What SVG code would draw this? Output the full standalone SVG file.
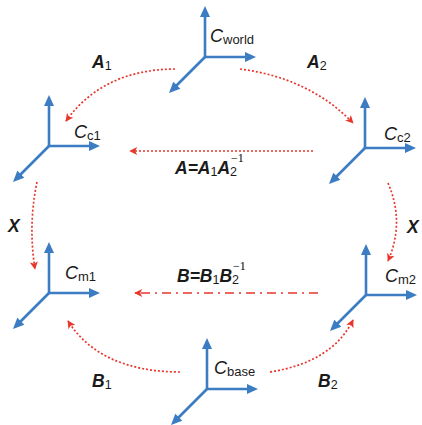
<svg xmlns="http://www.w3.org/2000/svg" xmlns:xlink="http://www.w3.org/1999/xlink" width="422" height="425" viewBox="0 0 422 425">
<style>
.ax{stroke:#3b7cc2;stroke-width:2.6;fill:none}
.ah{fill:#3b7cc2}
.rd{stroke:#e8362c;stroke-width:1.7;fill:none;stroke-dasharray:2 2}
.rdd{stroke:#e8362c;stroke-width:1.7;fill:none;stroke-dasharray:9 5 2 5}
.cl{font-family:"Liberation Sans",Arial,sans-serif;font-style:italic;font-size:18px;fill:#1a1a1a}
.sub{font-style:normal;font-size:13px}
.bl{font-family:"Liberation Sans",Arial,sans-serif;font-style:italic;font-weight:bold;font-size:17.5px;fill:#1a1a1a}
.bs{font-style:normal;font-weight:normal;font-size:12.5px}
.sup{font-style:normal;font-weight:normal;font-size:12px}
</style>
<defs>
<marker id="ra" viewBox="0 0 10 10" refX="9" refY="5" markerUnits="userSpaceOnUse" markerWidth="9" markerHeight="8" orient="auto">
<path d="M0,0 L10,5 L0,10 L2.5,5 z" fill="#e8362c"/>
</marker>
<g id="frame">
<line class="ax" x1="0" y1="0" x2="0" y2="-41"/>
<polygon class="ah" points="0,-51 -5,-40 5,-40"/>
<line class="ax" x1="0" y1="0" x2="41" y2="0"/>
<polygon class="ah" points="51,0 40,-5 40,5"/>
<line class="ax" x1="0" y1="0" x2="-29" y2="29"/>
<polygon class="ah" points="-36,36 -24.7,31.7 -31.7,24.7"/>
</g>
</defs>

<g id="connectors">
<path id="A1" class="rd" d="M175,69 Q103,69.5 66,121" marker-end="url(#ra)"/>
<path id="A2" class="rd" d="M240,69 Q309.5,78 353,123" marker-end="url(#ra)"/>
<path id="XL" class="rd" d="M37,182 Q28,225 35,269" marker-end="url(#ra)"/>
<path id="XR" class="rd" d="M388,183 Q405,222 388,261" marker-end="url(#ra)"/>
<path id="A" class="rd" d="M313,151 L130,151" marker-end="url(#ra)"/>
<path id="B" class="rdd" d="M318,293 L135,293" marker-end="url(#ra)"/>
<path id="B1" class="rd" d="M180,372 Q100,371.5 68,321" marker-end="url(#ra)"/>
<path id="B2" class="rd" d="M270,372 Q332.5,362 353,320" marker-end="url(#ra)"/>
</g>

<g id="world">
<use xlink:href="#frame" x="205" y="57"/>
<text class="cl" x="210" y="42">C<tspan class="sub" dy="1.5">world</tspan></text>
</g>
<g id="c1">
<use xlink:href="#frame" x="49" y="146"/>
<text class="cl" x="74" y="138">C<tspan class="sub" dy="1.5">c1</tspan></text>
</g>
<g id="c2">
<use xlink:href="#frame" x="365" y="148"/>
<text class="cl" x="384" y="140">C<tspan class="sub" dy="1.5">c2</tspan></text>
</g>
<g id="m1">
<use xlink:href="#frame" x="49" y="293"/>
<text class="cl" x="65" y="279">C<tspan class="sub" dy="1.5">m1</tspan></text>
</g>
<g id="m2">
<use xlink:href="#frame" x="366" y="295"/>
<text class="cl" x="385" y="282">C<tspan class="sub" dy="1.5">m2</tspan></text>
</g>
<g id="base">
<use xlink:href="#frame" x="207" y="389"/>
<text class="cl" x="214" y="374">C<tspan class="sub" dy="1.5">base</tspan></text>
</g>

<g id="labels">
<text class="bl" x="92" y="68">A<tspan class="bs" dy="2">1</tspan></text>
<text class="bl" x="307" y="68">A<tspan class="bs" dy="2">2</tspan></text>
<text class="bl" x="8" y="232">X</text>
<text class="bl" x="407" y="233">X</text>
<text class="bl" x="175" y="174">A=A<tspan class="bs" dy="2">1</tspan><tspan dy="-2">A</tspan><tspan class="bs" dy="2">2</tspan></text>
<text class="sup" x="231" y="162">−1</text>
<text class="bl" x="177" y="282">B=B<tspan class="bs" dy="2">1</tspan><tspan dy="-2">B</tspan><tspan class="bs" dy="2">2</tspan></text>
<text class="sup" x="233" y="270">−1</text>
<text class="bl" x="92" y="387">B<tspan class="bs" dy="2">1</tspan></text>
<text class="bl" x="318" y="387">B<tspan class="bs" dy="2">2</tspan></text>
</g>
</svg>
